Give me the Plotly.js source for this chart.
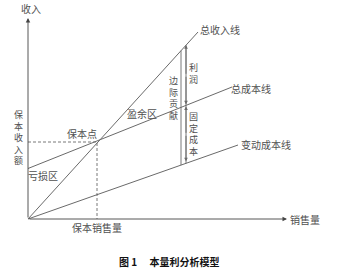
<!DOCTYPE html>
<html>
<head>
<meta charset="utf-8">
<script src="https://cdn.plot.ly/plotly-3.0.1.min.js"></script>
<style>html,body{margin:0;padding:0;background:#fff;}#chart{width:347px;height:272px;}</style>
</head>
<body>
<div id="chart"></div>
<script>
// ---- data (abstract units: sales volume on x, amount on y) ----
var revenueX = [0, 170];
var revenueY = [0, 187];
var totalCostX = [0, 204];
var totalCostY = [50.5, 132];
var varCostX = [0, 210];
var varCostY = [0, 74];
var breakEvenX = [69];
var breakEvenY = [77];
var axisMaxX = [259];
var axisMaxY = [201];
var marginQ = [153, 158]; // volumes where the contribution / profit brackets are drawn

var lineLabels = ['总收入线', '总成本线', '变动成本线'];
var axisLabels = ['销售量', '收入'];
var pointLabels = ['保本点', '保本销售量', '保本收入额'];
var regionLabels = ['盈余区', '亏损区'];
var bracketLabels = ['边际贡献', '利润', '固定成本'];
var captionText = '图 1\u3000 本量利分析模型';

function at(xs, ys, x) {
  return ys[0] + (ys[1] - ys[0]) * (x - xs[0]) / (xs[1] - xs[0]);
}

var lineColor = '#6a6a6a';
var axisColor = '#444';
var textColor = '#505050';
var FONT = 'Noto Sans CJK SC, Noto Sans, sans-serif';

var traces = [
  {x: revenueX, y: revenueY, mode: 'lines', line: {color: lineColor, width: 1}},
  {x: totalCostX, y: totalCostY, mode: 'lines', line: {color: lineColor, width: 1}},
  {x: varCostX, y: varCostY, mode: 'lines', line: {color: lineColor, width: 1}},
  {x: [0, breakEvenX[0], breakEvenX[0]], y: [breakEvenY[0], breakEvenY[0], 0], mode: 'lines',
   line: {color: lineColor, width: 0.9, dash: '3px,2px'}},
  {x: [marginQ[0], marginQ[0]], y: [at(revenueX, revenueY, marginQ[0]), at(varCostX, varCostY, marginQ[0])],
   mode: 'lines', line: {color: lineColor, width: 0.9}},
  {x: [marginQ[1], marginQ[1]], y: [at(revenueX, revenueY, marginQ[1]), at(varCostX, varCostY, marginQ[1])],
   mode: 'lines', line: {color: lineColor, width: 0.9}}
];

var ann = [];
function arrow(x0, y0, x1, y1, color, size) {
  ann.push({x: x1, y: y1, ax: x0, ay: y0, xref: 'x', yref: 'y', axref: 'x', ayref: 'y',
    showarrow: true, arrowhead: 2, arrowsize: size || 1, arrowwidth: 0.9, arrowcolor: color, text: ''});
}
function label(t, x, y, opts) {
  var a = {x: x, y: y, xref: 'x', yref: 'y', text: t, showarrow: false,
    font: {family: FONT, size: 10, color: textColor}, xanchor: 'center', yanchor: 'middle'};
  for (var k in (opts || {})) a[k] = opts[k];
  ann.push(a);
}
// vertical (stacked) text as one annotation: line pitch set by base size, glyphs by span size
function vlabel(t, x, yMid, pitch, glyph) {
  var html = Array.from(t).map(function (c) {
    return '<span style="font-size:' + glyph + 'px">' + c + '</span>';
  }).join('<br>');
  label(html, x, yMid, {font: {family: FONT, size: pitch / 1.3, color: textColor}, borderpad: 0});
}

// axes with arrowheads
arrow(0, 0, axisMaxX[0], 0, axisColor, 1);
arrow(0, 0, 0, axisMaxY[0], axisColor, 1);

// profit and fixed cost arrows on right bracket
var q = marginQ[1];
var rv = at(revenueX, revenueY, q), tc = at(totalCostX, totalCostY, q), vc = at(varCostX, varCostY, q);
arrow(q, (rv + tc) / 2, q, rv, lineColor, 0.8);
arrow(q, (rv + tc) / 2, q, tc + 1, lineColor, 0.8);
arrow(q, (tc + vc) / 2, q, tc - 1, lineColor, 0.8);
arrow(q, (tc + vc) / 2, q, vc + 2, lineColor, 0.8);

// text labels
label(lineLabels[0], 192, 189.5);
label(lineLabels[1], 223, 131);
label(lineLabels[2], 238, 75);
label(axisLabels[0], 277, 0);
label(axisLabels[1], 3, 211);
label(pointLabels[0], 54, 86);
label(pointLabels[1], breakEvenX[0], -8);
vlabel(pointLabels[2], -9.5, 81.5, 11.5, 9);
label(regionLabels[0], 114, 106);
label(regionLabels[1], 15, 44);
vlabel(bracketLabels[0], 145.3, 121, 11.5, 9);
vlabel(bracketLabels[1], 165.3, 146, 11.5, 9);
vlabel(bracketLabels[2], 165.3, 85, 11.5, 9);
label('<b>' + captionText + '</b>', 141, -42, {font: {family: FONT, size: 10, color: '#111'}});

var layout = {
  width: 347, height: 272,
  margin: {l: 0, r: 0, t: 0, b: 0},
  paper_bgcolor: '#fff', plot_bgcolor: '#fff',
  showlegend: false,
  xaxis: {range: [-28, 319], visible: false, fixedrange: true},
  yaxis: {range: [-53, 219], visible: false, fixedrange: true},
  annotations: ann
};

Plotly.newPlot('chart', traces, layout, {staticPlot: true, displayModeBar: false});
</script>
</body>
</html>
